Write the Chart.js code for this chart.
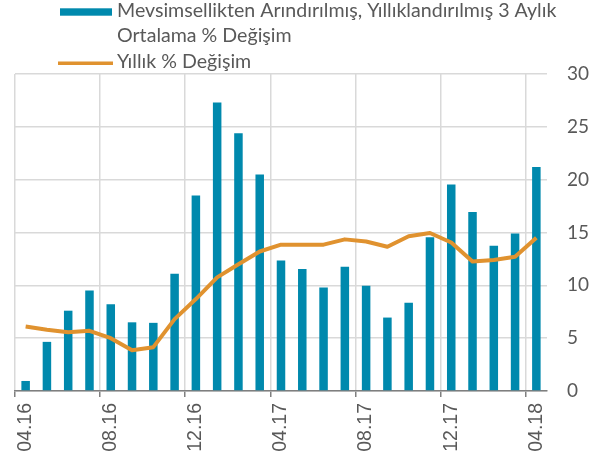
<!DOCTYPE html>
<html>
<head>
<meta charset="utf-8">
<script src="https://cdn.jsdelivr.net/npm/chart.js@4/dist/chart.umd.min.js"></script>
<style>
  html, body { margin: 0; padding: 0; background: #fff; }
  #wrap { width: 605px; height: 461px; position: relative; }
</style>
</head>
<body>
<div id="wrap"><canvas id="chart"></canvas></div>
<script>
// monthly data, 04.16 .. 04.18
var months = ["04.16", "05.16", "06.16", "07.16", "08.16", "09.16", "10.16", "11.16", "12.16",
              "01.17", "02.17", "03.17", "04.17", "05.17", "06.17", "07.17", "08.17", "09.17",
              "10.17", "11.17", "12.17", "01.18", "02.18", "03.18", "04.18"];

// seasonally adjusted, annualised 3-month average % change (bars)
var seasonalAdj = [0.95, 4.65, 7.6, 9.5, 8.2, 6.5, 6.45, 11.1, 18.5,
                   27.3, 24.4, 20.5, 12.35, 11.55, 9.8, 11.75, 9.95, 6.95,
                   8.35, 14.55, 19.55, 16.95, 13.75, 14.9, 21.2];

// annual % change (line)
var annualChange = [6.1, 5.8, 5.55, 5.7, 5.0, 3.85, 4.15, 6.8, 8.7,
                    10.75, 12.0, 13.2, 13.85, 13.85, 13.85, 14.35, 14.15, 13.65,
                    14.65, 14.95, 14.05, 12.25, 12.4, 12.7, 14.5];

var legendLabels = [
    ["Mevsimsellikten Arındırılmış, Yıllıklandırılmış 3 Aylık", "Ortalama % Değişim"],
    ["Yıllık % Değişim"]
];

var BAR_COLOR = "#0089ad";
var LINE_COLOR = "#e0922f";
var TEXT_COLOR = "#595959";
var GRID_COLOR = "#d9d9d9";

// legend drawn by hand: wide flat swatch + wrapped label
var legendPlugin = {
    id: "customLegend",
    afterDraw: function (chart) {
        var ctx = chart.ctx;
        ctx.save();
        ctx.font = "19.6px Lato";
        ctx.textBaseline = "alphabetic";
        ctx.textAlign = "left";

        // bar series
        ctx.fillStyle = BAR_COLOR;
        ctx.fillRect(60, 8.3, 52, 7.4);
        ctx.fillStyle = TEXT_COLOR;
        ctx.fillText(legendLabels[0][0], 117, 16.8);
        ctx.fillText(legendLabels[0][1], 117, 41.8);

        // line series
        ctx.strokeStyle = LINE_COLOR;
        ctx.lineWidth = 3.5;
        ctx.beginPath();
        ctx.moveTo(58, 63.3);
        ctx.lineTo(113, 63.3);
        ctx.stroke();
        ctx.fillText(legendLabels[1][0], 117, 68.3);
        ctx.restore();
    }
};

var canvas = document.getElementById("chart");
var chart = new Chart(canvas, {
    type: "bar",
    data: {
        labels: months,
        datasets: [
            {
                type: "line",
                label: legendLabels[1][0],
                data: annualChange,
                borderColor: LINE_COLOR,
                backgroundColor: LINE_COLOR,
                borderWidth: 4,
                pointRadius: 0,
                tension: 0,
                borderJoinStyle: "round",
                order: 0
            },
            {
                type: "bar",
                label: legendLabels[0].join(" "),
                data: seasonalAdj,
                backgroundColor: BAR_COLOR,
                categoryPercentage: 1.0,
                barPercentage: 0.4,
                order: 1
            }
        ]
    },
    options: {
        responsive: true,
        maintainAspectRatio: false,
        animation: false,
        layout: {
            padding: { left: 15, top: 74, right: 0, bottom: 0 }
        },
        scales: {
            x: {
                offset: true,
                grid: {
                    offset: true,
                    color: function (c) { return c.index % 4 === 0 ? GRID_COLOR : "rgba(0,0,0,0)"; },
                    tickColor: function (c) { return c.index % 4 === 0 ? "#7f7f7f" : "rgba(0,0,0,0)"; },
                    tickLength: 6,
                    lineWidth: 1.5
                },
                border: { display: true, color: "#7f7f7f", width: 1.5 },
                ticks: {
                    autoSkip: false,
                    minRotation: 90,
                    maxRotation: 90,
                    padding: 6,
                    color: TEXT_COLOR,
                    font: { family: "'Liberation Sans', Arial", size: 19.5 },
                    callback: function (value, index) {
                        return index % 4 === 0 ? months[index] : "";
                    }
                },
                afterFit: function (scale) { scale.height = 70; }
            },
            y: {
                position: "right",
                min: 0,
                max: 30,
                grid: {
                    color: GRID_COLOR,
                    lineWidth: 1.5,
                    drawTicks: false
                },
                border: { display: false },
                ticks: {
                    stepSize: 5,
                    padding: 20,
                    color: TEXT_COLOR,
                    font: { family: "Lato", size: 19 }
                },
                afterFit: function (scale) { scale.width = 58; }
            }
        },
        plugins: {
            legend: { display: false },
            tooltip: { enabled: false }
        }
    },
    plugins: [legendPlugin]
});
</script>
</body>
</html>
